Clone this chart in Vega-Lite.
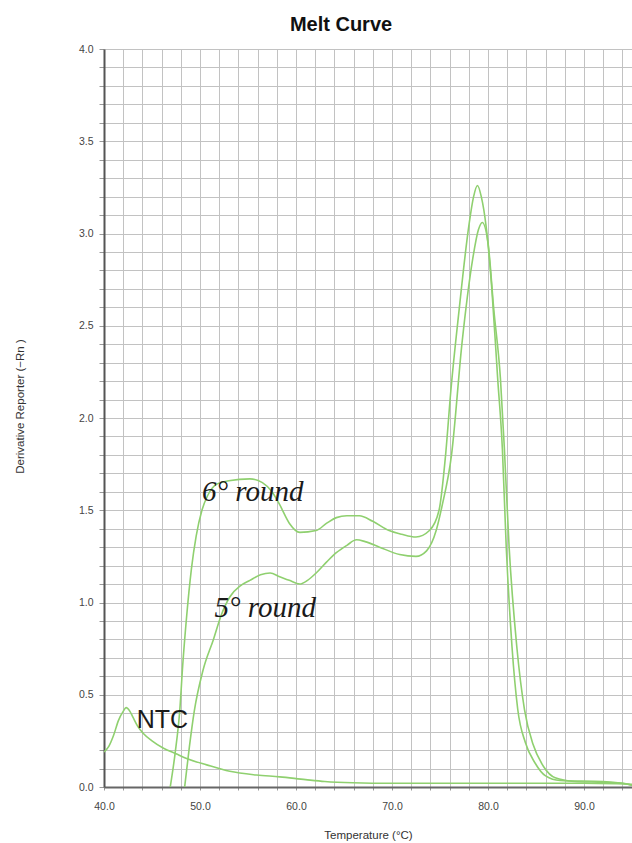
{
  "$schema": "https://vega.github.io/schema/vega-lite/v6.json",
  "width": 528,
  "height": 738,
  "autosize": {"type": "none"},
  "padding": {"left": 104, "top": 49, "right": 0, "bottom": 56},
  "background": "white",
  "view": {"stroke": null},
  "title": {
    "text": "Melt Curve",
    "font": "Liberation Sans",
    "fontSize": 20,
    "fontWeight": "bold",
    "color": "#111111",
    "anchor": "middle",
    "baseline": "alphabetic",
    "offset": 19,
    "dx": -27,
    "dy": 26
  },
  "datasets": {
    "curves": [
      {"series": "6° round", "T": 46.9, "v": 0},
      {"series": "6° round", "T": 47.4, "v": 0.18},
      {"series": "6° round", "T": 47.9, "v": 0.42},
      {"series": "6° round", "T": 48.2, "v": 0.66},
      {"series": "6° round", "T": 48.6, "v": 0.92},
      {"series": "6° round", "T": 49.1, "v": 1.18},
      {"series": "6° round", "T": 49.6, "v": 1.36},
      {"series": "6° round", "T": 50.2, "v": 1.5},
      {"series": "6° round", "T": 50.8, "v": 1.58},
      {"series": "6° round", "T": 51.7, "v": 1.64},
      {"series": "6° round", "T": 53.0, "v": 1.66},
      {"series": "6° round", "T": 55.2, "v": 1.67},
      {"series": "6° round", "T": 56.5, "v": 1.65},
      {"series": "6° round", "T": 57.5, "v": 1.6},
      {"series": "6° round", "T": 58.3, "v": 1.53},
      {"series": "6° round", "T": 59.3, "v": 1.43},
      {"series": "6° round", "T": 60.4, "v": 1.38},
      {"series": "6° round", "T": 62.1, "v": 1.39},
      {"series": "6° round", "T": 63.2, "v": 1.43},
      {"series": "6° round", "T": 64.2, "v": 1.46},
      {"series": "6° round", "T": 65.3, "v": 1.47},
      {"series": "6° round", "T": 66.6, "v": 1.47},
      {"series": "6° round", "T": 68.0, "v": 1.44},
      {"series": "6° round", "T": 69.7, "v": 1.39},
      {"series": "6° round", "T": 71.0, "v": 1.37},
      {"series": "6° round", "T": 72.5, "v": 1.355},
      {"series": "6° round", "T": 73.9, "v": 1.39},
      {"series": "6° round", "T": 74.9, "v": 1.5},
      {"series": "6° round", "T": 75.6, "v": 1.81},
      {"series": "6° round", "T": 76.1, "v": 2.13},
      {"series": "6° round", "T": 77.0, "v": 2.59},
      {"series": "6° round", "T": 78.0, "v": 3.04},
      {"series": "6° round", "T": 78.5, "v": 3.2},
      {"series": "6° round", "T": 78.9, "v": 3.26},
      {"series": "6° round", "T": 79.3, "v": 3.2},
      {"series": "6° round", "T": 79.8, "v": 3.04},
      {"series": "6° round", "T": 80.4, "v": 2.7},
      {"series": "6° round", "T": 81.0, "v": 2.22},
      {"series": "6° round", "T": 81.5, "v": 1.83},
      {"series": "6° round", "T": 81.9, "v": 1.3},
      {"series": "6° round", "T": 82.5, "v": 0.76},
      {"series": "6° round", "T": 83.1, "v": 0.42},
      {"series": "6° round", "T": 83.9, "v": 0.24},
      {"series": "6° round", "T": 84.9, "v": 0.13},
      {"series": "6° round", "T": 86.0, "v": 0.06},
      {"series": "6° round", "T": 87.5, "v": 0.035},
      {"series": "6° round", "T": 92.0, "v": 0.03},
      {"series": "6° round", "T": 94.0, "v": 0.02},
      {"series": "6° round", "T": 95.0, "v": 0.01},
      {"series": "5° round", "T": 48.4, "v": 0},
      {"series": "5° round", "T": 48.9, "v": 0.22},
      {"series": "5° round", "T": 49.4, "v": 0.41},
      {"series": "5° round", "T": 50.3, "v": 0.63},
      {"series": "5° round", "T": 51.4, "v": 0.8},
      {"series": "5° round", "T": 52.2, "v": 0.93},
      {"series": "5° round", "T": 53.1, "v": 1.03},
      {"series": "5° round", "T": 54.2, "v": 1.09},
      {"series": "5° round", "T": 55.2, "v": 1.12},
      {"series": "5° round", "T": 56.3, "v": 1.15},
      {"series": "5° round", "T": 57.3, "v": 1.16},
      {"series": "5° round", "T": 58.3, "v": 1.14},
      {"series": "5° round", "T": 59.3, "v": 1.12},
      {"series": "5° round", "T": 60.4, "v": 1.1},
      {"series": "5° round", "T": 61.2, "v": 1.12},
      {"series": "5° round", "T": 62.1, "v": 1.16},
      {"series": "5° round", "T": 63.2, "v": 1.22},
      {"series": "5° round", "T": 64.2, "v": 1.27},
      {"series": "5° round", "T": 65.3, "v": 1.31},
      {"series": "5° round", "T": 66.3, "v": 1.34},
      {"series": "5° round", "T": 67.2, "v": 1.33},
      {"series": "5° round", "T": 68.7, "v": 1.3},
      {"series": "5° round", "T": 70.8, "v": 1.26},
      {"series": "5° round", "T": 72.5, "v": 1.25},
      {"series": "5° round", "T": 73.6, "v": 1.28},
      {"series": "5° round", "T": 74.6, "v": 1.39},
      {"series": "5° round", "T": 75.2, "v": 1.52},
      {"series": "5° round", "T": 76.2, "v": 1.8},
      {"series": "5° round", "T": 77.3, "v": 2.41},
      {"series": "5° round", "T": 78.4, "v": 2.86},
      {"series": "5° round", "T": 79.0, "v": 3.02},
      {"series": "5° round", "T": 79.4, "v": 3.06},
      {"series": "5° round", "T": 80.0, "v": 2.95},
      {"series": "5° round", "T": 80.6, "v": 2.59},
      {"series": "5° round", "T": 81.3, "v": 2.21},
      {"series": "5° round", "T": 81.7, "v": 1.84},
      {"series": "5° round", "T": 82.2, "v": 1.3},
      {"series": "5° round", "T": 83.0, "v": 0.76},
      {"series": "5° round", "T": 83.8, "v": 0.42},
      {"series": "5° round", "T": 84.7, "v": 0.23},
      {"series": "5° round", "T": 85.8, "v": 0.11},
      {"series": "5° round", "T": 87.0, "v": 0.05},
      {"series": "5° round", "T": 89.0, "v": 0.03},
      {"series": "5° round", "T": 92.0, "v": 0.025},
      {"series": "5° round", "T": 94.0, "v": 0.02},
      {"series": "5° round", "T": 95.0, "v": 0.01},
      {"series": "NTC", "T": 40.0, "v": 0.19},
      {"series": "NTC", "T": 40.5, "v": 0.22},
      {"series": "NTC", "T": 41.0, "v": 0.28},
      {"series": "NTC", "T": 41.5, "v": 0.36},
      {"series": "NTC", "T": 42.0, "v": 0.41},
      {"series": "NTC", "T": 42.3, "v": 0.43},
      {"series": "NTC", "T": 42.7, "v": 0.41},
      {"series": "NTC", "T": 43.0, "v": 0.38},
      {"series": "NTC", "T": 43.5, "v": 0.33},
      {"series": "NTC", "T": 44.1, "v": 0.29},
      {"series": "NTC", "T": 45.0, "v": 0.25},
      {"series": "NTC", "T": 46.2, "v": 0.21},
      {"series": "NTC", "T": 47.5, "v": 0.18},
      {"series": "NTC", "T": 48.6, "v": 0.155},
      {"series": "NTC", "T": 50.7, "v": 0.12},
      {"series": "NTC", "T": 53.1, "v": 0.085},
      {"series": "NTC", "T": 55.9, "v": 0.065},
      {"series": "NTC", "T": 58.3, "v": 0.055},
      {"series": "NTC", "T": 61.0, "v": 0.04},
      {"series": "NTC", "T": 63.0, "v": 0.03},
      {"series": "NTC", "T": 65.9, "v": 0.023},
      {"series": "NTC", "T": 70.0, "v": 0.02},
      {"series": "NTC", "T": 80.0, "v": 0.02},
      {"series": "NTC", "T": 90.0, "v": 0.02},
      {"series": "NTC", "T": 95.0, "v": 0.015}
    ],
    "labels": [
      {"label": "6° round", "T": 50.2, "v": 1.552, "kind": "serif"},
      {"label": "5° round", "T": 51.5, "v": 0.921, "kind": "serif"},
      {"label": "NTC", "T": 43.4, "v": 0.32, "kind": "sans"}
    ]
  },
  "layer": [
    {
      "data": {"name": "curves"},
      "mark": {"type": "line", "interpolate": "monotone", "color": "#8fd06f", "strokeWidth": 1.6, "clip": true},
      "encoding": {
        "x": {
          "field": "T", "type": "quantitative",
          "scale": {"domain": [40, 95], "nice": false, "zero": false},
          "axis": {
            "title": "Temperature (°C)",
            "titleFont": "Liberation Sans", "titleFontSize": 11.5, "titleFontWeight": "normal", "titleColor": "#333333",
            "titlePadding": 18,
            "values": [40,42,44,46,48,50,52,54,56,58,60,62,64,66,68,70,72,74,76,78,80,82,84,86,88,90,92,94],
            "tickCount": 200,
            "labelOverlap": false,
            "labelFlush": false,
            "labelExpr": "datum.value % 10 === 0 ? format(datum.value, '.1f') : ''",
            "labelFont": "Liberation Sans", "labelFontSize": 10.5, "labelColor": "#444444",
            "labelPadding": 11,
            "tickSize": 3, "tickColor": "#999999",
            "domainColor": "#666666", "domainWidth": 2,
            "grid": true, "gridColor": "#c2c2c2", "gridWidth": 1
          }
        },
        "y": {
          "field": "v", "type": "quantitative",
          "scale": {"domain": [0, 4], "nice": false},
          "axis": {
            "title": "Derivative Reporter (−Rn )",
            "titleFont": "Liberation Sans", "titleFontSize": 11.5, "titleFontWeight": "normal", "titleColor": "#333333",
            "titleAngle": -90, "titleX": -84, "titleY": 357, "titleAlign": "center", "titleBaseline": "middle",
            "values": [0,0.1,0.2,0.3,0.4,0.5,0.6,0.7,0.8,0.9,1,1.1,1.2,1.3,1.4,1.5,1.6,1.7,1.8,1.9,2,2.1,2.2,2.3,2.4,2.5,2.6,2.7,2.8,2.9,3,3.1,3.2,3.3,3.4,3.5,3.6,3.7,3.8,3.9,4],
            "tickCount": 200,
            "labelOverlap": false,
            "labelFlush": false,
            "labelExpr": "abs(datum.value * 2 - round(datum.value * 2)) < 0.001 ? format(datum.value, '.1f') : ''",
            "labelFont": "Liberation Sans", "labelFontSize": 10.5, "labelColor": "#444444",
            "labelPadding": 6,
            "tickSize": 5, "tickColor": "#999999",
            "domainColor": "#555555", "domainWidth": 2,
            "grid": true, "gridColor": "#c2c2c2", "gridWidth": 1
          }
        },
        "detail": {"field": "series", "type": "nominal"}
      }
    },
    {
      "mark": {"type": "rule", "color": "#555555", "strokeWidth": 2},
      "encoding": {"y": {"datum": 4}}
    },
    {
      "data": {"name": "labels"},
      "transform": [{"filter": "datum.kind === 'serif'"}],
      "mark": {"type": "text", "font": "Liberation Serif", "fontStyle": "italic", "fontSize": 29, "align": "left", "baseline": "alphabetic", "color": "#1a1a1a"},
      "encoding": {
        "x": {"field": "T", "type": "quantitative"},
        "y": {"field": "v", "type": "quantitative"},
        "text": {"field": "label"}
      }
    },
    {
      "data": {"name": "labels"},
      "transform": [{"filter": "datum.kind === 'sans'"}],
      "mark": {"type": "text", "font": "Liberation Sans", "fontSize": 25, "align": "left", "baseline": "alphabetic", "color": "#1a1a1a"},
      "encoding": {
        "x": {"field": "T", "type": "quantitative"},
        "y": {"field": "v", "type": "quantitative"},
        "text": {"field": "label"}
      }
    }
  ]
}
